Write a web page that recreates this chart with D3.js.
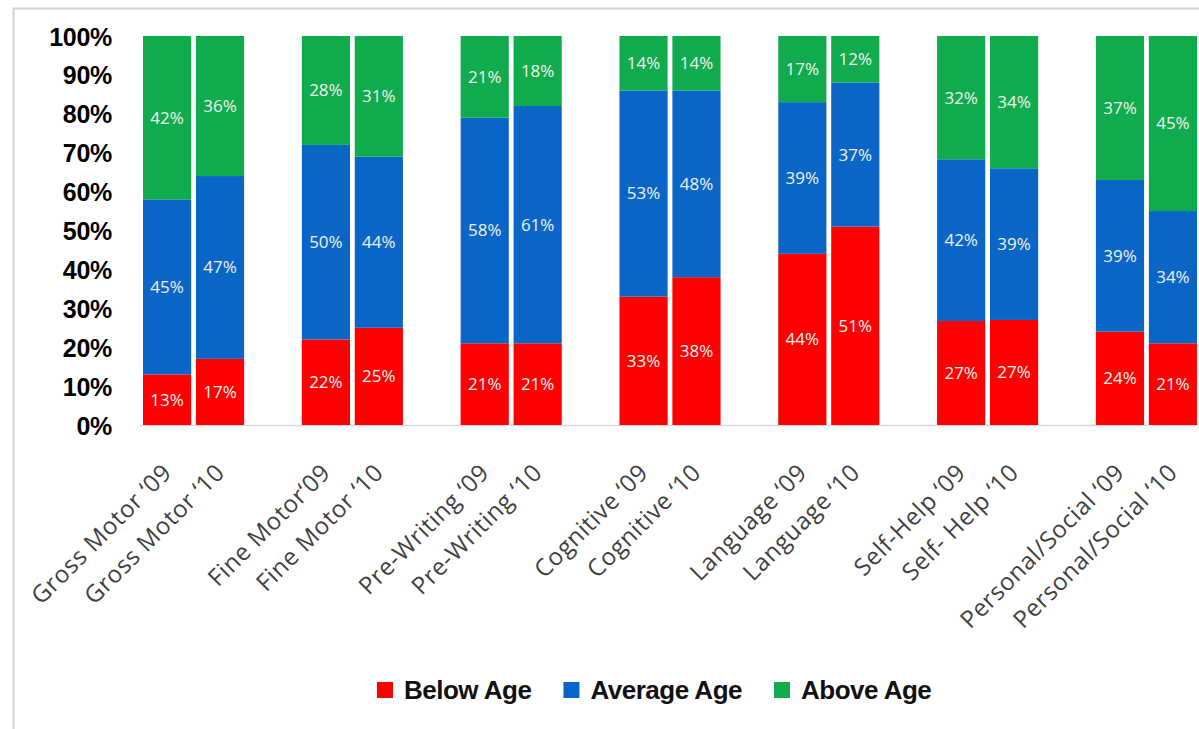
<!DOCTYPE html>
<html>
<head>
<meta charset="utf-8">
<script src="https://cdn.jsdelivr.net/npm/d3@7"></script>
<style>
  body { margin: 0; background: #fff; }
  .axis text { font-family: "Liberation Sans", Arial, sans-serif; font-weight: bold; font-size: 25px; fill: #000; letter-spacing: -0.3px; }
  .xlabel { font-family: "Open Sans", sans-serif; font-size: 24px; fill: #404040; letter-spacing: 0.6px; }
  .value { font-family: "Open Sans", sans-serif; font-size: 17px; fill: #f2f2f2; }
  .legend text { font-family: "Liberation Sans", Arial, sans-serif; font-weight: bold; font-size: 26px; fill: #111; letter-spacing: -0.5px; }
</style>
</head>
<body>
<div id="chart"></div>
<script>
// Data
var groups = ["Gross Motor", "Fine Motor", "Pre-Writing", "Cognitive", "Language", "Self-Help", "Personal/Social"];
var labels = [
  "Gross Motor \u201809", "Gross Motor \u201810",
  "Fine Motor\u201809", "Fine Motor \u201810",
  "Pre-Writing \u201809", "Pre-Writing \u201810",
  "Cognitive \u201809", "Cognitive \u201810",
  "Language \u201809", "Language \u201810",
  "Self-Help \u201809", "Self- Help \u201810",
  "Personal/Social \u201809", "Personal/Social \u201810"
];
var below   = [13, 17, 22, 25, 21, 21, 33, 38, 44, 51, 27, 27, 24, 21];
var average = [45, 47, 50, 44, 58, 61, 53, 48, 39, 37, 42, 39, 39, 34];
var above   = [42, 36, 28, 31, 21, 18, 14, 14, 17, 12, 32, 34, 37, 45];
var seriesNames = ["Below Age", "Average Age", "Above Age"];
var seriesKeys  = ["below", "average", "above"];
var colors      = ["#ff0000", "#0a66c6", "#10ab4d"];
var yTicks      = [0, 0.1, 0.2, 0.3, 0.4, 0.5, 0.6, 0.7, 0.8, 0.9, 1];

(function() {
  var width = 1199, height = 729;

  var svg = d3.select("#chart").append("svg")
    .attr("width", width)
    .attr("height", height);

  // outer frame
  svg.append("rect")
    .attr("x", 13.5).attr("y", 8.5)
    .attr("width", width).attr("height", height)
    .attr("fill", "none")
    .attr("stroke", "#d4d4d4")
    .attr("stroke-width", 2);

  var rows = labels.map(function(l, i) {
    return { label: l, key: "b" + i, below: below[i], average: average[i], above: above[i] };
  });

  // slots: two bars per group with an empty slot between groups
  var slots = [];
  groups.forEach(function(g, gi) {
    slots.push("b" + (gi * 2), "b" + (gi * 2 + 1));
    if (gi < groups.length - 1) slots.push("gap" + gi);
  });

  var x = d3.scaleBand()
    .domain(slots)
    .range([143, 1197])
    .paddingInner(0.09)
    .paddingOuter(0);

  var y = d3.scaleLinear()
    .domain([0, 1])
    .range([425, 36]);

  var color = d3.scaleOrdinal().domain(seriesKeys).range(colors);

  var stacked = d3.stack()
    .keys(seriesKeys)
    .offset(d3.stackOffsetExpand)(rows);

  // y axis
  var yAxis = d3.axisLeft(y)
    .tickValues(yTicks)
    .tickSize(0)
    .tickPadding(28)
    .tickFormat(d3.format(".0%"));

  svg.append("g")
    .attr("class", "axis")
    .attr("transform", "translate(140,0)")
    .call(yAxis)
    .call(function(g) { g.select(".domain").remove(); })
    .selectAll("text").attr("dy", "0.36em");

  // baseline
  svg.append("line")
    .attr("x1", 140).attr("x2", width)
    .attr("y1", y(0) + 0.5).attr("y2", y(0) + 0.5)
    .attr("stroke", "#d9d9d9")
    .attr("stroke-width", 1.5);

  // bars
  var layers = svg.append("g").attr("class", "bars")
    .selectAll("g.layer")
      .data(stacked)
    .enter().append("g")
      .attr("class", "layer")
      .attr("fill", function(d) { return color(d.key); });

  layers.selectAll("rect")
      .data(function(d) { return d; })
    .enter().append("rect")
      .attr("x", function(d) { return x(d.data.key); })
      .attr("width", x.bandwidth())
      .attr("y", function(d) { return y(d[1]); })
      .attr("height", function(d) { return y(d[0]) - y(d[1]); });

  // value labels
  stacked.forEach(function(layer) {
    svg.append("g").selectAll("text")
        .data(layer)
      .enter().append("text")
        .attr("class", "value")
        .attr("text-anchor", "middle")
        .attr("dy", "0.35em")
        .attr("x", function(d) { return x(d.data.key) + x.bandwidth() / 2; })
        .attr("y", function(d) { return y((d[0] + d[1]) / 2); })
        .text(function(d) { return d.data[layer.key] + "%"; });
  });

  // category labels, rotated
  svg.append("g").selectAll("text")
      .data(rows)
    .enter().append("text")
      .attr("class", "xlabel")
      .attr("text-anchor", "end")
      .attr("transform", function(d) {
        var cx = x(d.key) + x.bandwidth() / 2 + 6;
        return "translate(" + cx + ",474) rotate(-45)";
      })
      .text(function(d) { return d.label; });

  // legend
  var legend = svg.append("g").attr("class", "legend");
  var lx = 377;
  seriesNames.forEach(function(name, i) {
    legend.append("rect")
      .attr("x", lx).attr("y", 682)
      .attr("width", 16).attr("height", 16)
      .attr("fill", colors[i]);
    var t = legend.append("text")
      .attr("x", lx + 27).attr("y", 699)
      .text(name);
    lx += 27 + t.node().getComputedTextLength() + 32;
  });
})();
</script>
</body>
</html>
